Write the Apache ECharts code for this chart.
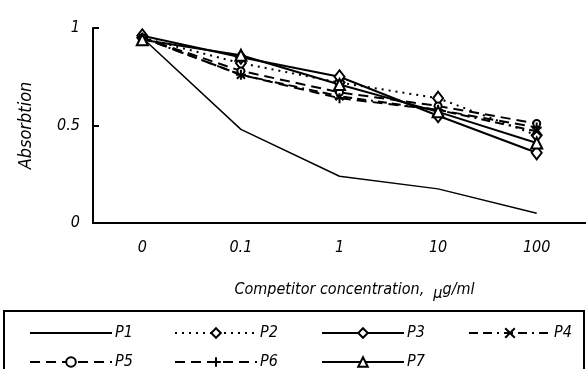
<!DOCTYPE html>
<html>
<head>
<meta charset="utf-8">
<script src="https://cdn.jsdelivr.net/npm/echarts@6/dist/echarts.min.js"></script>
<style>
  html, body { margin: 0; padding: 0; background: #fff; }
  #chart { width: 586px; height: 369px; }
</style>
</head>
<body>
<div id="chart"></div>
<script>
// Categories and tick labels
const concentrations = ['0', '0.1', '1', '10', '100'];
const yTicks = [0, 0.5, 1];

// Series values (absorbtion)
const p1 = [0.95, 0.48, 0.24, 0.175, 0.05];
const p2 = [0.95, 0.82, 0.72, 0.64, 0.45];
const p3 = [0.96, 0.85, 0.75, 0.55, 0.36];
const p4 = [0.95, 0.76, 0.65, 0.58, 0.47];
const p5 = [0.95, 0.78, 0.67, 0.60, 0.51];
const p6 = [0.95, 0.76, 0.64, 0.58, 0.49];
const p7 = [0.94, 0.86, 0.71, 0.57, 0.41];

const FONT = '"DejaVu Sans Condensed", "Liberation Sans", sans-serif';
const CROSS = 'path://M0,0L10,10M10,0L0,10';
const PLUS = 'path://M5,0L5,10M0,5L10,5';
// small bar, only P1's (invisible) legend symbol
const BAR = 'path://M0,0L10,0L10,1L0,1Z';

const chartDom = document.getElementById('chart');
const chart = echarts.init(chartDom);

// helper for one black line series
const mkSeries = (name, data, lineType, width, symbol, size) => ({
  name,
  type: 'line',
  data,
  symbol: symbol || BAR,
  symbolSize: size || [10, 1.5],
  showSymbol: !!symbol,
  lineStyle: { color: '#000', width, type: lineType },
  itemStyle: symbol
    ? { color: '#fff', borderColor: '#000', borderWidth: 2 }
    : { color: 'rgba(0,0,0,0)', borderColor: 'rgba(0,0,0,0)', borderWidth: 0 },
  emphasis: { disabled: true },
});

const txt = { fontFamily: FONT, fontStyle: 'italic', fontSize: 16, color: '#000' };

// one legend per entry so the boxed two-row layout is exact
const legendSlots = [
  ['P1', 24, 320], ['P2', 169, 320], ['P3', 316, 320], ['P4', 463, 320],
  ['P5', 24, 349], ['P6', 169, 349], ['P7', 316, 349],
];
const legends = legendSlots.map(([name, left, top]) => ({
  id: 'lg' + name,
  data: [name],
  left, top,
  itemWidth: 82, itemHeight: 12, itemGap: 0,
  textStyle: Object.assign({ padding: [0, 0, 0, -2] }, txt),
  selectedMode: false,
}));

chart.setOption({
  animation: false,
  textStyle: { fontFamily: FONT },
  grid: { left: 93, right: 0, top: 28, bottom: 146 },
  xAxis: {
    type: 'category',
    data: concentrations,
    boundaryGap: true,
    axisLine: { lineStyle: { color: '#000', width: 2 } },
    axisTick: { inside: true, length: 5, lineStyle: { color: '#000', width: 2 } },
    axisLabel: Object.assign({ margin: 17 }, txt),
    name: 'Competitor concentration,  {mu|μ}g/ml',
    nameLocation: 'middle',
    nameGap: 55,
    nameTextStyle: Object.assign({
      padding: [0, 0, 0, 30],
      rich: { mu: Object.assign({ padding: [8, 0, 0, 0] }, txt) },
    }, txt),
  },
  yAxis: {
    type: 'value',
    min: yTicks[0],
    max: yTicks[yTicks.length - 1],
    interval: 0.5,
    splitLine: { show: false },
    axisLine: { show: true, lineStyle: { color: '#000', width: 2 } },
    axisTick: { show: true, inside: true, length: 6, lineStyle: { color: '#000', width: 2 } },
    axisLabel: Object.assign({ margin: 13 }, txt),
    name: 'Absorbtion',
    nameLocation: 'middle',
    nameGap: 58,
    nameTextStyle: Object.assign({}, txt, { fontSize: 18 }),
  },
  legend: legends,
  graphic: [
    {
      type: 'rect',
      shape: { x: 4, y: 311, width: 580, height: 70 },
      style: { fill: 'none', stroke: '#000', lineWidth: 2 },
      silent: true,
    },
  ],
  series: [
    mkSeries('P1', p1, 'solid', 1.5),
    mkSeries('P2', p2, [2, 5], 2, 'diamond', [10, 13]),
    mkSeries('P3', p3, 'solid', 2, 'diamond', [10, 13]),
    mkSeries('P4', p4, [9, 5, 9, 5, 2, 5], 2, CROSS, 8),
    mkSeries('P5', p5, [10, 6], 2, 'circle', 7),
    mkSeries('P6', p6, [10, 6], 2, PLUS, 10),
    mkSeries('P7', p7, 'solid', 2, 'triangle', [11, 11]),
  ],
});
</script>
</body>
</html>
